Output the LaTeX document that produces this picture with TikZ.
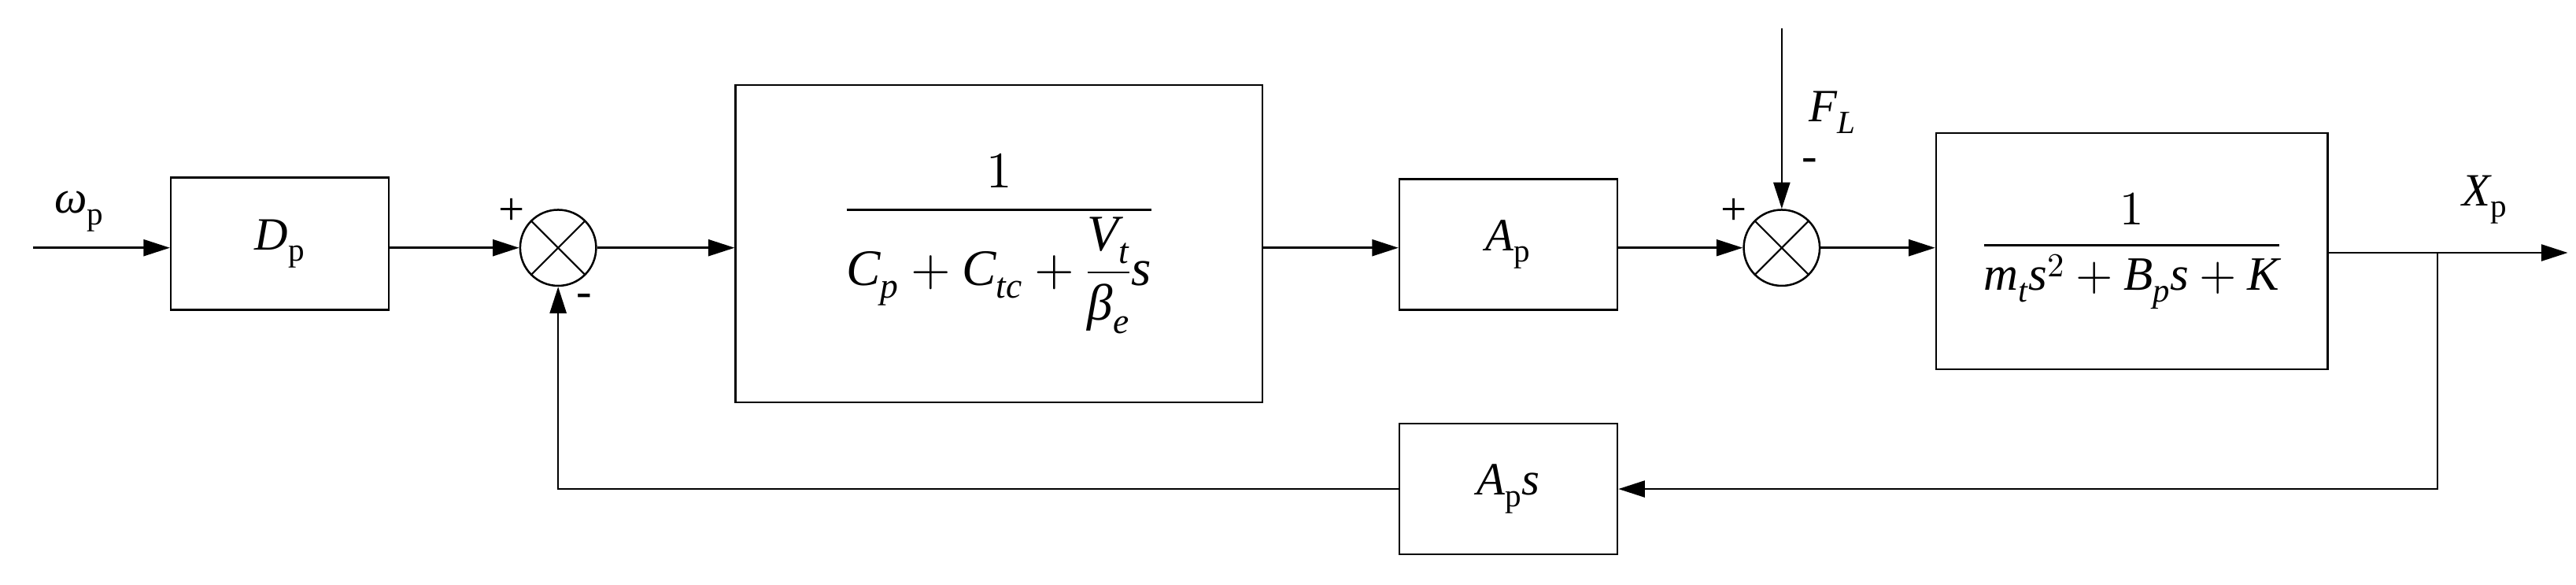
\documentclass[tikz,border=0pt]{standalone}
\usepackage{fontspec}
\setmainfont{Liberation Serif}
\usepackage{unicode-math}
\setmathfont{Latin Modern Math}
\setmathfont[range={it/{latin,Latin,greek}}]{Liberation Serif Italic}
\usetikzlibrary{arrows.meta}
\begin{document}
\begin{tikzpicture}[x=1pt,y=-1pt,font=\fontsize{28}{32}\selectfont,
  blk/.style={draw,line width=1.2pt,inner sep=0pt},
  sum/.style={draw,line width=1.2pt,circle,minimum size=46pt,inner sep=0pt,path picture={\draw[line width=1pt] (path picture bounding box.south west)--(path picture bounding box.north east) (path picture bounding box.north west)--(path picture bounding box.south east);}},
  ar/.style={line width=1.2pt,-{Triangle[length=16pt,width=10pt]}},
  ln/.style={line width=1.2pt}]
\useasboundingbox (0,0) rectangle (1560,354);
\coordinate (in) at (20,150);
\node[blk,minimum width=132pt,minimum height=80pt] (Dp) at (169.5,147.5) {$D_{\mathrm{p}}$};
\node[sum] (s1) at (338,150) {};
\node[blk,minimum width=319pt,minimum height=192pt] (G1) at (605,147.5) {\fontsize{31}{36}\selectfont$\displaystyle\frac{\;\;1\;\;}{C_p+C_{tc}+\dfrac{V_t}{\beta_e}s}$};
\node[blk,minimum width=132pt,minimum height=79pt] (Ap) at (913.5,148) {$A_{\mathrm{p}}$};
\node[sum] (s2) at (1079,150) {};
\coordinate (FLt) at (1079,17);
\node[blk,minimum width=237pt,minimum height=143pt] (G2) at (1291,152) {\fontsize{29}{34}\selectfont$\displaystyle\frac{1}{m_t s^2+B_p s+K}$};
\node[blk,minimum width=132pt,minimum height=79pt] (Aps) at (913.5,296) {$A_{\mathrm{p}}s$};
\coordinate (out) at (1555,153);
\coordinate (br) at (1476,153);
\coordinate (brd) at (1476,296);
\coordinate (lc) at (338,296);
\draw[ar] (in) -- (Dp.west |- in);
\draw[ar] (Dp.east |- s1) -- (s1.west);
\draw[ar] (s1.east) -- (G1.west |- s1);
\draw[ar] (G1.east |- s1) -- (Ap.west |- s1);
\draw[ar] (Ap.east |- s2) -- (s2.west);
\draw[ar] (FLt) -- (s2.north);
\draw[ar] (s2.east) -- (G2.west |- s2);
\draw[ar] (G2.east |- out) -- (out);
\draw[ar] (br) -- (brd) -- (Aps.east);
\draw[ar] (Aps.west) -- (lc) -- (s1.south);
\node at (48,128) {$\omega_{\mathrm{p}}$};
\node at (310,128) {+};
\node at (354,182) {-};
\node at (1050,128) {+};
\node at (1096,100) {-};
\node at (1110,68) {$F_L$};
\node at (1505,121) {$X_{\mathrm{p}}$};
\end{tikzpicture}
\end{document}
